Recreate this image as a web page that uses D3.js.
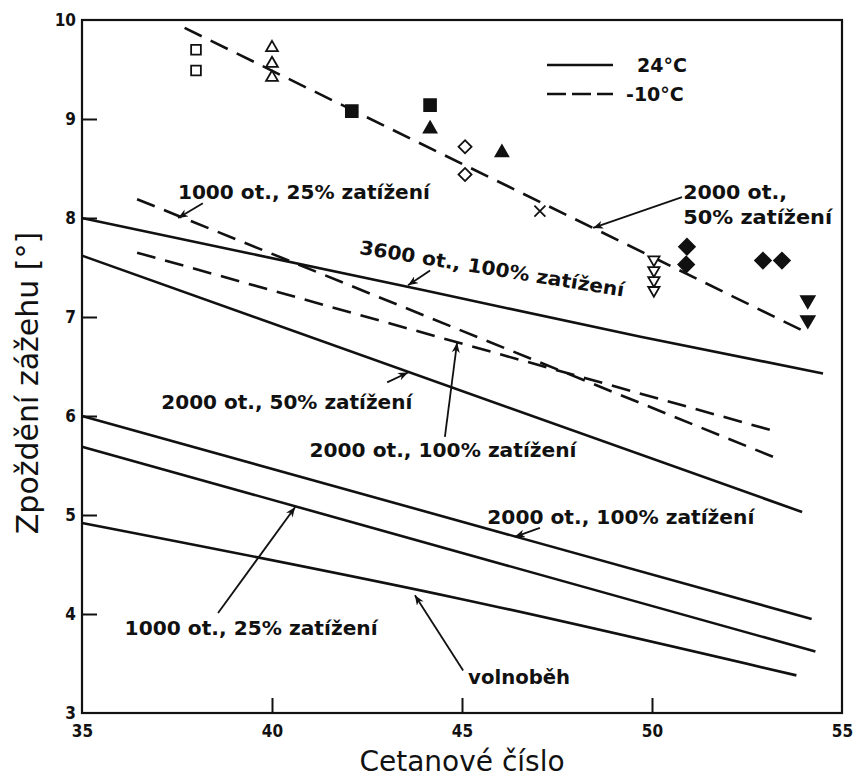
<!DOCTYPE html>
<html>
<head>
<meta charset="utf-8">
<script src="https://cdn.jsdelivr.net/npm/d3@7"></script>
<style>
  body{margin:0;background:#fff;}
  text{font-family:"DejaVu Sans",Verdana,sans-serif;fill:#111;}
</style>
</head>
<body>
<svg id="chart" width="853" height="780"></svg>
<script>
// axis ticks
var xTicks=[35,40,45,50,55];
var yTicks=[3,4,5,6,7,8,9,10];

// solid lines, 24°C  [cetane number, ignition delay]
var solid3600_100=[[35,8.0],[44,7.27],[49.7,6.8],[54.5,6.43]];
var solid2000_50=[[35,7.62],[53.95,5.03]];
var solid2000_100=[[35,6.0],[54.2,3.95]];
var solid1000_25=[[35,5.69],[54.3,3.62]];
var solidIdle=[[35,4.92],[45,4.15],[53.8,3.38]];

// dashed lines, -10°C
var dashed2000_50=[[37.7,9.92],[54.03,6.85]];
var dashed1000_25=[[36.45,8.19],[53.3,5.57]];
var dashed2000_100=[[36.45,7.65],[53.2,5.85]];

// measured points (-10°C, 2000 ot., 50%)
var openSquares=[[38,9.7],[38,9.49]];
var openTrianglesUp=[[40,9.72],[40,9.56],[40,9.42]];
var filledSquares=[[42.1,9.08],[44.16,9.14]];
var filledTrianglesUp=[[44.16,8.9],[46.05,8.66]];
var openDiamonds=[[45.08,8.72],[45.08,8.44]];
var crosses=[[47.05,8.07]];
var openTrianglesDown=[[50.05,7.58],[50.05,7.47],[50.05,7.37],[50.05,7.27]];
var filledDiamonds=[[50.92,7.71],[50.9,7.53],[52.92,7.57],[53.42,7.57]];
var filledTrianglesDown=[[54.1,7.17],[54.1,6.97]];

// annotation texts, anchors and arrows in data units
var labelTexts=["1000 ot., 25% zatížení","3600 ot., 100% zatížení","2000 ot., 50% zatížení",
  "2000 ot., 100% zatížení","2000 ot., 100% zatížení","1000 ot., 25% zatížení","volnoběh"];
var labelAnchors=[[40.84,8.26],[45.79,7.49],[40.39,6.14],[44.5,5.66],[49.18,4.98],[39.45,3.86],[45.16,3.36]];
var arrowFrom=[[38.18,8.15],[44.16,7.47],[43.03,6.34],[44.55,5.79],[47.05,4.87],[38.58,4.01],[45.03,3.43],[50.79,8.21]];
var arrowTo=[[37.53,8.0],[43.58,7.32],[43.58,6.44],[44.87,6.74],[46.39,4.78],[40.61,5.08],[43.76,4.19],[48.45,7.9]];
var sideLabel=["2000 ot.,","50% zatížení"];
var legendLabels=["24°C","-10°C"];

var svg=d3.select("#chart");
var x=d3.scaleLinear().domain([35,55]).range([82,842]);
var y=d3.scaleLinear().domain([3,10]).range([713,20]);

var defs=svg.append("defs");
defs.append("marker")
  .attr("id","arr").attr("viewBox","0 0 10 8").attr("refX",10).attr("refY",4)
  .attr("markerWidth",10).attr("markerHeight",8).attr("markerUnits","userSpaceOnUse")
  .attr("orient","auto")
  .append("path").attr("d","M0,0 L10,4 L0,8 L3,4 Z").attr("fill","#111");

// axes (ticks inward)
var gx=svg.append("g").attr("transform","translate(0,713)")
  .call(d3.axisBottom(x).tickValues(xTicks).tickSize(-15).tickPadding(12).tickFormat(d3.format("d")));
var gy=svg.append("g").attr("transform","translate(82,0)")
  .call(d3.axisLeft(y).tickValues(yTicks).tickSize(-15).tickPadding(6).tickFormat(d3.format("d")));
[gx,gy].forEach(function(g){
  g.select(".domain").remove();
  g.selectAll(".tick line").attr("stroke","#111").attr("stroke-width",2);
  g.selectAll(".tick text")
    .style("font-family","'DejaVu Sans Condensed','DejaVu Sans',sans-serif")
    .style("font-size","17px").style("font-weight","bold").attr("fill","#111");
});
gx.selectAll(".tick").filter(function(d){return d==35||d==55;}).select("line").remove();
gy.selectAll(".tick").filter(function(d){return d==3||d==10;}).select("line").remove();

// frame
svg.append("rect").attr("x",x(35)).attr("y",y(10))
  .attr("width",x(55)-x(35)).attr("height",y(3)-y(10))
  .attr("fill","none").attr("stroke","#111").attr("stroke-width",2.2);

// curves
var line=d3.line().curve(d3.curveMonotoneX)
  .x(function(d){return x(d[0]);}).y(function(d){return y(d[1]);});
var solids=[solid3600_100,solid2000_50,solid2000_100,solid1000_25,solidIdle];
var dashes=[dashed2000_50,dashed1000_25,dashed2000_100];
svg.append("g").selectAll("path").data(solids).enter().append("path")
  .attr("d",line).attr("fill","none").attr("stroke","#111").attr("stroke-width",2.6);
svg.append("g").selectAll("path").data(dashes).enter().append("path")
  .attr("d",line).attr("fill","none").attr("stroke","#111").attr("stroke-width",2.6)
  .attr("stroke-dasharray","19,10");

// markers
var crossType={draw:function(ctx,size){var r=Math.sqrt(size)/2;
  ctx.moveTo(-r,-r);ctx.lineTo(r,r);ctx.moveTo(r,-r);ctx.lineTo(-r,r);}};
var markerSets=[
  {data:openSquares,type:d3.symbolSquare,size:95,rot:0,fill:"#fff"},
  {data:openTrianglesUp,type:d3.symbolTriangle,size:60,rot:0,fill:"#fff"},
  {data:filledSquares,type:d3.symbolSquare,size:140,rot:0,fill:"#111"},
  {data:filledTrianglesUp,type:d3.symbolTriangle,size:70,rot:0,fill:"#111"},
  {data:openDiamonds,type:d3.symbolSquare,size:85,rot:45,fill:"#fff"},
  {data:crosses,type:crossType,size:120,rot:0,fill:"none"},
  {data:openTrianglesDown,type:d3.symbolTriangle,size:55,rot:180,fill:"#fff"},
  {data:filledDiamonds,type:d3.symbolSquare,size:125,rot:45,fill:"#111"},
  {data:filledTrianglesDown,type:d3.symbolTriangle,size:80,rot:180,fill:"#111"}
];
markerSets.forEach(function(m){
  svg.append("g").selectAll("path").data(m.data).enter().append("path")
    .attr("d",d3.symbol().type(m.type).size(m.size))
    .attr("transform",function(d){return "translate("+x(d[0])+","+y(d[1])+") rotate("+m.rot+")";})
    .attr("fill",m.fill).attr("stroke","#111").attr("stroke-width",1.8);
});

// arrows
svg.append("g").selectAll("line").data(arrowFrom).enter().append("line")
  .attr("x1",function(d){return x(d[0]);}).attr("y1",function(d){return y(d[1]);})
  .attr("x2",function(d,i){return x(arrowTo[i][0]);}).attr("y2",function(d,i){return y(arrowTo[i][1]);})
  .attr("stroke","#111").attr("stroke-width",1.8).attr("marker-end","url(#arr)");

// labels
var labelLens=[252,268,251,267,267,253,102];
svg.append("g").selectAll("text").data(labelTexts).enter().append("text")
  .attr("x",function(d,i){return x(labelAnchors[i][0]);})
  .attr("y",function(d,i){return y(labelAnchors[i][1]);})
  .attr("dy","0.36em")
  .attr("text-anchor",function(d,i){return i==6?"start":"middle";})
  .attr("transform",function(d,i){return i==1?"rotate(9.2,"+x(labelAnchors[i][0])+","+y(labelAnchors[i][1])+")":null;})
  .attr("textLength",function(d,i){return labelLens[i];})
  .attr("lengthAdjust","spacingAndGlyphs")
  .style("font-size","19px").style("font-weight","bold")
  .text(function(d){return d;});
svg.append("g").selectAll("text").data(sideLabel).enter().append("text")
  .attr("x",x(50.82)).attr("y",function(d,i){return y(8.26)+i*25;})
  .attr("dy","0.36em").attr("textLength",function(d,i){return i?149:104;})
  .attr("lengthAdjust","spacingAndGlyphs")
  .style("font-size","19px").style("font-weight","bold")
  .text(function(d){return d;});

// legend
var lg=svg.append("g");
lg.selectAll("line").data(legendLabels).enter().append("line")
  .attr("x1",547).attr("x2",613).attr("y1",function(d,i){return 65+i*29;}).attr("y2",function(d,i){return 65+i*29;})
  .attr("stroke","#111").attr("stroke-width",2.6)
  .attr("stroke-dasharray",function(d,i){return i?"19,6":null;});
lg.selectAll("text").data(legendLabels).enter().append("text")
  .attr("x",function(d,i){return i?626:637;}).attr("y",function(d,i){return 65+i*29;})
  .attr("dy","0.36em").style("font-size","19px").style("font-weight","bold")
  .text(function(d){return d;});

// axis titles
svg.append("text").attr("x",462).attr("y",771).attr("text-anchor","middle")
  .style("font-size","28px").text("Cetanové číslo");
svg.append("text").attr("transform","translate(38,383) rotate(-90)").attr("text-anchor","middle")
  .style("font-size","30px").text("Zpoždění zážehu [°]");
</script>
</body>
</html>
